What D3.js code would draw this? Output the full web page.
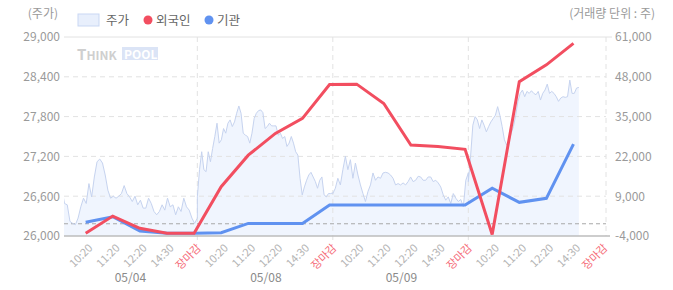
<!DOCTYPE html>
<html>
<head>
<meta charset="utf-8" />
<script src="https://cdn.jsdelivr.net/npm/d3@7"></script>
<title>주가 / 외국인 / 기관</title>
<style>
body { margin: 0; background: #fff; }
text { font-family: "Noto Sans CJK KR", "Noto Sans", sans-serif; }
</style>
</head>
<body>
<script>
// time slots on the x axis, 5 per trading day
const slots = ["10:20","11:20","12:20","14:30","장마감",
               "10:20","11:20","12:20","14:30","장마감",
               "10:20","11:20","12:20","14:30","장마감",
               "10:20","11:20","12:20","14:30","장마감"];
const days = ["05/04","05/08","05/09",""];

// net buying (주), one value per slot (last slot not reached yet)
const foreign = [-3100, 2500, -1500, -3100, -3100,
                 12100, 22400, 29500, 34400, 45500,
                 45600, 39300, 25700, 25200, 24300,
                 -3500, 46400, 51900, 58900];
const inst = [500, 2300, -2400, -3100, -3100,
              -2900, 100, 100, 100, 6100,
              6100, 6100, 6100, 6100, 6100,
              11600, 7000, 8300, 26000];

const priceTicks = [26000, 26600, 27200, 27800, 28400, 29000];
const volTicks = [-4000, 9000, 22000, 35000, 48000, 61000];

// intraday price, evenly spaced through each session
const priceDay1 = [26710,26490,26470,26220,26190,26170,26270,26440,26570,26490,26790,26590,26890,27120,27160,27100,26920,26690,26570,26600,26570,26600,26640,26760,26640,26590,26520,26600,26470,26540,26420,26420,26570,26490,26370,26320,26370,26470,26390,26570,26440,26470,26320,26440,26370,26570,26440,26390,26270,26190,26270];
const priceDay2 = [26590,27000,27270,27000,26970,27270,27120,27320,27500,27700,27400,27450,27620,27550,27700,27750,27650,27720,27850,27960,27850,27550,27520,27500,27400,27550,27770,27850,27890,27900,27860,27620,27650,27700,27660,27660,27660,27520,27550,27470,27500,27350,27400,27500,27400,27270,27220,26870,26620,26740,26840,26920,26960,26890,26820,26720,26840,26890,26620,26590,26640,26640,26650];
const priceDay3 = [26640,26720,26870,26770,27000,27200,27000,27150,26870,27100,26920,26770,26640,26520,26670,26770,26950,26840,26890,26870,26950,26960,26950,26920,26870,26770,26790,26770,26800,26770,26820,26890,26820,26840,26900,26890,26840,26840,26890,26890,26820,26840,26800,26740,26620,26540,26590,26490,26640,26570,26520,26550,26440,26840,26950];
const priceDay4 = [26820,27200,27670,27800,27750,27620,27750,27670,27570,27650,27720,27770,27820,27950,27820,27650,27450,27370,27420,27550,27650,27820,28030,28150,28200,28100,28180,28150,28190,28150,28130,28180,28050,28150,28200,28290,28150,28180,28150,28100,28030,28080,28100,28090,28100,28350,28150,28150,28230,28240];
const sessionMinutes = 390;   // 09:00 - 15:30
const lastMinute = 318;       // current session so far

const W = 673, H = 290;
const pLeft = 64, pRight = 606, pTop = 37, pBottom = 236;

const svg = d3.select("body").append("svg")
  .attr("width", W).attr("height", H);

const x = d3.scaleLinear().domain([-0.8, 19.2]).range([pLeft, pRight]);
const yP = d3.scaleLinear().domain([26000, 29000]).range([pBottom, pTop]);
const yV = d3.scaleLinear().domain([-4000, 61000]).range([pBottom, pTop]);

svg.append("clipPath").attr("id", "plot")
  .append("rect").attr("x", pLeft).attr("y", pTop)
  .attr("width", pRight - pLeft).attr("height", pBottom - pTop);

// price points: day d covers slots 5d-0.88 .. 5d+4.12
const priceDays = [priceDay1, priceDay2, priceDay3, priceDay4];
const pricePts = [];
priceDays.forEach((arr, d) => {
  const span = d === 3 ? lastMinute : sessionMinutes;
  arr.forEach((p, j) => {
    const m = j / (arr.length - 1) * span;
    pricePts.push({s: 5 * d - 0.88 + 5 * m / sessionMinutes, p: p});
  });
});

svg.append("path")
  .attr("clip-path", "url(#plot)")
  .attr("d", d3.area().x(d => x(d.s)).y0(pBottom).y1(d => yP(d.p))(pricePts))
  .attr("fill", "#f0f5fe");

// grid
svg.append("g").selectAll("line").data(priceTicks.slice(1, -1)).join("line")
  .attr("x1", pLeft).attr("x2", pRight)
  .attr("y1", d => yP(d)).attr("y2", d => yP(d))
  .attr("stroke", "#e2e2e2").attr("stroke-dasharray", "5,4");
svg.append("line").attr("x1", pLeft).attr("x2", pRight + 6)
  .attr("y1", pTop).attr("y2", pTop).attr("stroke", "#e2e2e2");

const seps = [4.12, 9.12, 14.12];
svg.append("g").selectAll("line").data(seps).join("line")
  .attr("x1", d => x(d)).attr("x2", d => x(d))
  .attr("y1", pTop).attr("y2", pBottom + 4)
  .attr("stroke", "#e2e2e2").attr("stroke-dasharray", "5,4");
svg.append("line").attr("x1", pRight).attr("x2", pRight)
  .attr("y1", pTop).attr("y2", pBottom)
  .attr("stroke", "#e2e2e2").attr("stroke-dasharray", "5,4");

// volume zero line
svg.append("line").attr("x1", pLeft).attr("x2", pRight)
  .attr("y1", yV(0)).attr("y2", yV(0))
  .attr("stroke", "#a8a8a8").attr("stroke-dasharray", "4,3");

// price line
svg.append("path")
  .attr("clip-path", "url(#plot)")
  .attr("d", d3.line().x(d => x(d.s)).y(d => yP(d.p))(pricePts))
  .attr("fill", "none").attr("stroke", "#c6d3ef").attr("stroke-width", 1);

// bottom axis line
svg.append("line").attr("x1", pLeft).attr("x2", pRight + 4)
  .attr("y1", pBottom).attr("y2", pBottom)
  .attr("stroke", "#bdbdbd").attr("stroke-width", 1.5);

// logo watermark
const logo = svg.append("g").attr("transform", "translate(77,60)");
const lt = logo.append("text").attr("font-weight", "bold").attr("fill", "#cfcfcf")
  .attr("font-family", "DejaVu Sans");
lt.append("tspan").attr("font-size", 15).text("T");
lt.append("tspan").attr("font-size", 12).text("HINK");
logo.append("rect").attr("x", 45).attr("y", -13).attr("width", 36).attr("height", 13)
  .attr("fill", "#dbe4f6");
logo.append("text").attr("x", 47).attr("y", -1).attr("font-size", 12).attr("font-weight", "bold")
  .attr("font-family", "DejaVu Sans").attr("fill", "#fff").text("POOL");

// lines
const line = d3.line().x((d, i) => x(i)).y(d => yV(d));
svg.append("path").attr("d", line(inst))
  .attr("fill", "none").attr("stroke", "#6092f0").attr("stroke-width", 3);
svg.append("path").attr("d", line(foreign))
  .attr("fill", "none").attr("stroke", "#f24e60").attr("stroke-width", 3);

// left axis
svg.append("g").selectAll("text").data(priceTicks).join("text")
  .attr("x", 60).attr("y", d => yP(d)).attr("dy", "0.36em")
  .attr("text-anchor", "end").attr("font-size", 12).attr("fill", "#9a9a9a")
  .text(d => d3.format(",")(d));
// right axis
svg.append("g").selectAll("text").data(volTicks).join("text")
  .attr("x", 615).attr("y", d => yV(d)).attr("dy", "0.36em")
  .attr("font-size", 12).attr("fill", "#9a9a9a")
  .text(d => d3.format(",")(d).replace("−", "-"));

svg.append("text").attr("x", 58).attr("y", 18).attr("text-anchor", "end")
  .attr("font-size", 12).attr("fill", "#9a9a9a").text("(주가)");
svg.append("text").attr("x", 655).attr("y", 18).attr("text-anchor", "end")
  .attr("font-size", 12).attr("fill", "#9a9a9a").text("(거래량 단위 : 주)");

// x labels
svg.append("g").selectAll("text").data(slots).join("text")
  .attr("transform", (d, i) => `translate(${x(i) + 3},${pBottom + 8}) rotate(-45)`)
  .attr("text-anchor", "end").attr("dy", "0.6em")
  .attr("font-size", 11)
  .attr("fill", d => d === "장마감" ? "#f56b78" : "#b4b4b4")
  .text(d => d);

svg.append("g").selectAll("text").data(days).join("text")
  .attr("x", (d, i) => x(5 * i + 1.65)).attr("y", 282)
  .attr("text-anchor", "middle").attr("font-size", 12).attr("fill", "#8a8a8a")
  .text(d => d);

// legend
const lg = svg.append("g");
lg.append("rect").attr("x", 78).attr("y", 14).attr("width", 21).attr("height", 12)
  .attr("fill", "#e8effc").attr("stroke", "#c9d7f3");
lg.append("text").attr("x", 106).attr("y", 25).attr("font-size", 12.5).attr("fill", "#666").text("주가");
lg.append("circle").attr("cx", 148).attr("cy", 20).attr("r", 4.5).attr("fill", "#f24e60");
lg.append("text").attr("x", 156).attr("y", 25).attr("font-size", 12.5).attr("fill", "#666").text("외국인");
lg.append("circle").attr("cx", 209).attr("cy", 20).attr("r", 4.5).attr("fill", "#6092f0");
lg.append("text").attr("x", 217).attr("y", 25).attr("font-size", 12.5).attr("fill", "#666").text("기관");
</script>
</body>
</html>
